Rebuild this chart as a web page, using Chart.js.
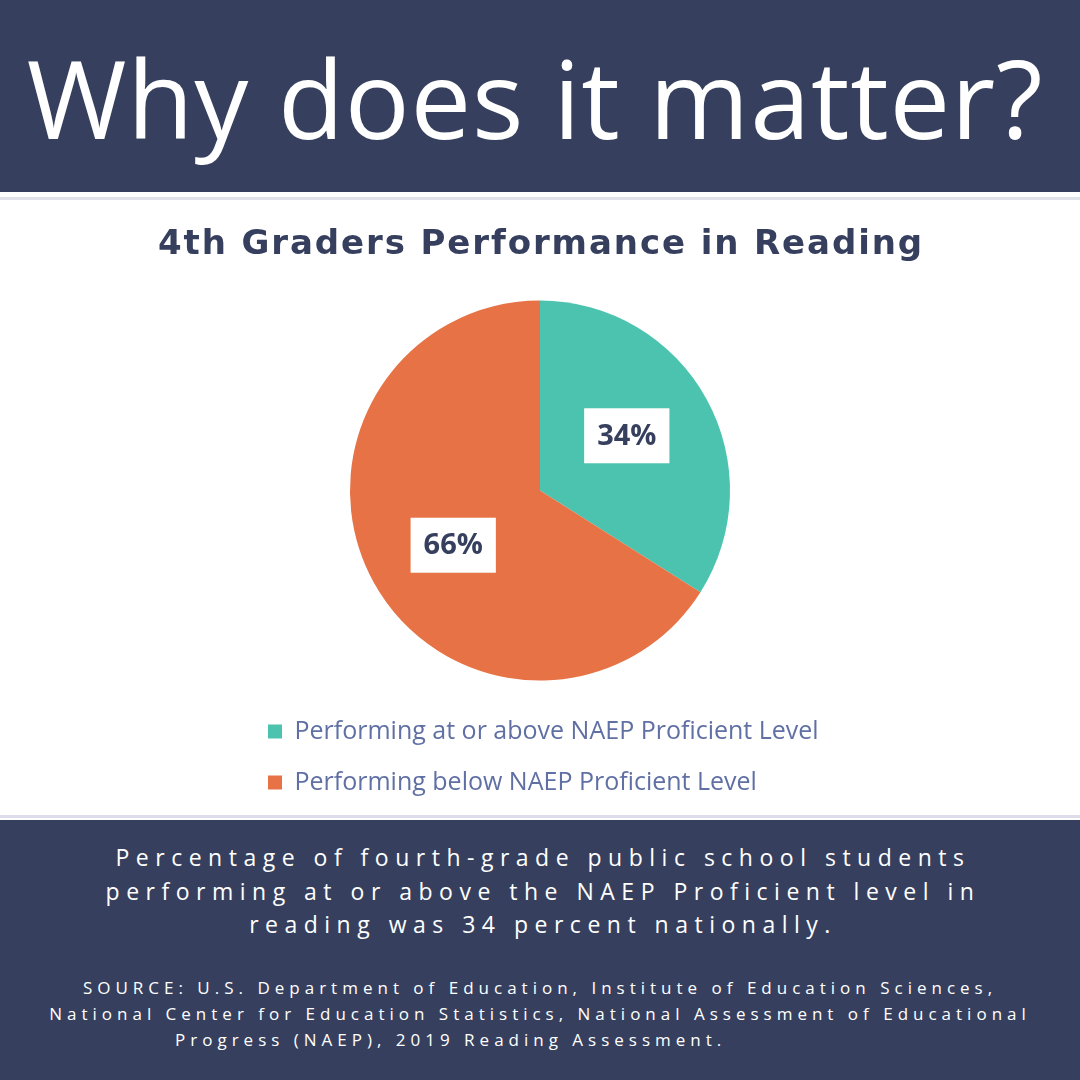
<!DOCTYPE html>
<html>
<head>
<meta charset="utf-8">
<script src="https://cdn.jsdelivr.net/npm/chart.js@4.4.1/dist/chart.umd.min.js"></script>
<style>
  html, body { margin: 0; padding: 0; }
  body { width: 1080px; height: 1080px; position: relative; background: #ffffff; overflow: hidden; }
  #top { position: absolute; left: 0; top: 0; width: 1080px; height: 192px; background: #36405e; }
  #top h1 { margin: 0; position: absolute; left: 0; width: 1070px; top: 33px; text-align: center;
            font-family: "Open Sans", sans-serif; font-weight: 400; font-size: 108px; line-height: 130px;
            color: #ffffff; letter-spacing: 0.8px; white-space: nowrap; }
  #line1 { position: absolute; left: 0; top: 197px; width: 1080px; height: 3px; background: #dfe2e8; }
  #line2 { position: absolute; left: 0; top: 815px; width: 1080px; height: 3px; background: #dddde9; }
  #wrap { position: absolute; left: 0; top: 200px; width: 1080px; height: 620px; }
  #chartTitle { position: absolute; left: 0; top: 219px; width: 1080px; margin: 0; text-align: center;
                font-family: "DejaVu Sans", sans-serif; font-weight: bold; font-size: 34px; line-height: 46px;
                letter-spacing: 1.9px; padding-left: 2px; box-sizing: border-box; color: #36405e; white-space: nowrap; }
  #bottom { position: absolute; left: 0; top: 820px; width: 1080px; height: 260px; background: #36405e; color: #ffffff; }
  #note { position: absolute; left: 0; width: 1080px; top: 21px; text-align: center; white-space: nowrap;
          font-family: "Open Sans", sans-serif; font-size: 23px; line-height: 33.5px; letter-spacing: 6.5px; padding-left: 6px; box-sizing: border-box; }
  #src { position: absolute; left: 0; width: 1080px; top: 155px;
         font-family: "Open Sans", sans-serif; font-size: 17px; line-height: 26px; letter-spacing: 5px; }
  #src div { white-space: nowrap; }
</style>
</head>
<body>
<div id="top"><h1>Why does it matter?</h1></div>
<div id="line1"></div>
<div id="wrap"><canvas id="pie_chart"></canvas></div>
<h2 id="chartTitle"></h2>
<div id="line2"></div>
<div id="bottom">
  <div id="note">Percentage of fourth-grade public school students<br>performing at or above the NAEP Proficient level in<br>reading was 34 percent nationally.</div>
  <div id="src">
    <div style="text-align:center">SOURCE: U.S. Department of Education, Institute of Education Sciences,</div>
    <div style="text-align:center">National Center for Education Statistics, National Assessment of Educational</div>
    <div style="padding-left:175px">Progress (NAEP), 2019 Reading Assessment.</div>
  </div>
</div>
<script>
const categories = ['Performing at or above NAEP Proficient Level', 'Performing below NAEP Proficient Level'];
const values = [34, 66];
const sliceColors = ['#4cc3ae', '#e67245'];
const chartTitle = '4th Graders Performance in Reading';

document.getElementById('chartTitle').textContent = chartTitle;

// white boxes with the percentage inside each slice
const sliceLabels = {
  id: 'sliceLabels',
  afterDatasetsDraw(chart) {
    const ctx = chart.ctx;
    const meta = chart.getDatasetMeta(0);
    ctx.save();
    ctx.font = 'bold 29px "Open Sans", sans-serif';
    ctx.textAlign = 'center';
    ctx.textBaseline = 'middle';
    meta.data.forEach(function(arc, i) {
      const p = arc.getProps(['x', 'y', 'startAngle', 'endAngle', 'outerRadius'], true);
      const mid = (p.startAngle + p.endAngle) / 2 - 0.06;
      const cx = p.x + Math.cos(mid) * p.outerRadius * 0.54;
      const cy = p.y + Math.sin(mid) * p.outerRadius * 0.54;
      const txt = values[i] + '%';
      const w = ctx.measureText(txt).width + 26;
      const h = 55;
      ctx.fillStyle = '#ffffff';
      ctx.fillRect(cx - w / 2, cy - h / 2, w, h);
      ctx.fillStyle = '#36405e';
      ctx.fillText(txt, cx, cy + 1);
    });
    ctx.restore();
  }
};

const ctx = document.getElementById('pie_chart');
const data = {
  labels: categories,
  datasets: [{
    data: values,
    backgroundColor: sliceColors,
    borderWidth: 0,
    radius: 190
  }]
};
const option = {
  responsive: true,
  maintainAspectRatio: false,
  animation: false,
  layout: { padding: { left: 242, right: 242, top: 88, bottom: 15 } },
  plugins: {
    title: { display: false },
    legend: {
      position: 'bottom',
      align: 'start',
      labels: {
        boxWidth: 14,
        boxHeight: 14,
        padding: 26,
        color: '#6070a4',
        font: { family: '"Open Sans", sans-serif', size: 25 }
      }
    },
    tooltip: { enabled: false }
  }
};
new Chart(ctx, { type: 'pie', data: data, options: option, plugins: [sliceLabels] });
</script>
</body>
</html>
